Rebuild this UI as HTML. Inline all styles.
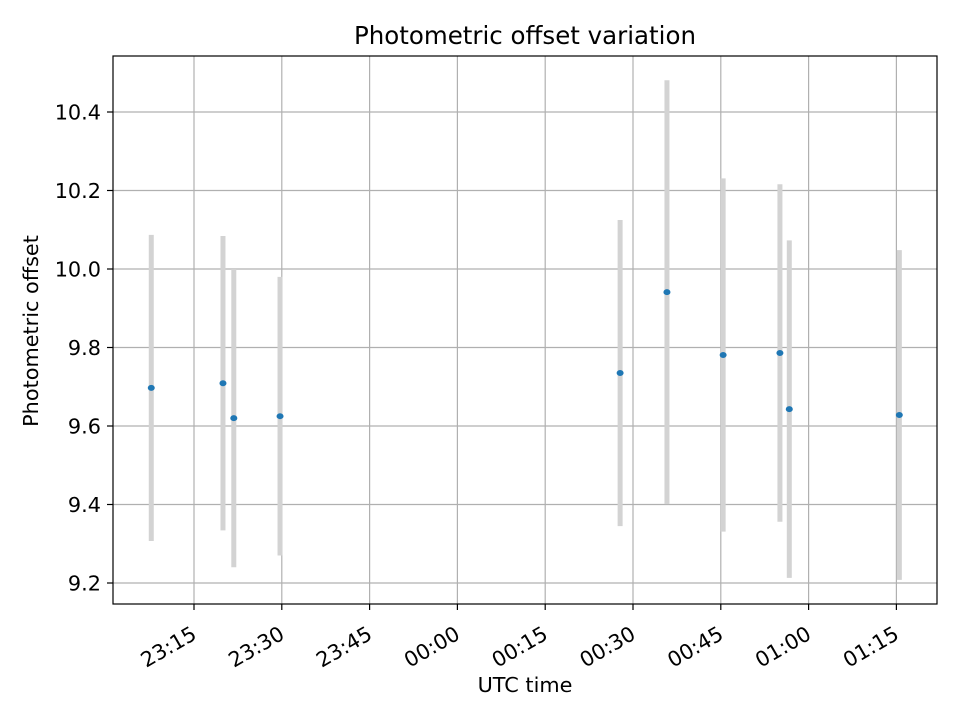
<!DOCTYPE html>
<html><head><meta charset="utf-8"><style>
html,body{margin:0;padding:0;background:#fff;}
svg text{font-family:"DejaVu Sans","Liberation Sans",sans-serif;}
</style></head><body>
<svg id="chart" width="960" height="720" xmlns="http://www.w3.org/2000/svg">
<rect width="960" height="720" fill="#fff"/>
<g id="grid"></g>
<g id="bars"></g>
<g id="pts"></g>
<rect x="113" y="56" width="824" height="548" fill="none" stroke="#000" stroke-width="1.2"/>
<g id="ticks"></g>
<text x="525" y="44" font-size="24.5" text-anchor="middle">Photometric offset variation</text>
<text x="525" y="692" font-size="20.8" text-anchor="middle">UTC time</text>
<text x="38" y="331" font-size="20.8" text-anchor="middle" transform="rotate(-90 38 331)">Photometric offset</text>
</svg>
<script>
// times in minutes relative to 23:15
const times = [-7.3, 4.95, 6.8, 14.7, 72.8, 80.8, 90.4, 100.1, 101.7, 120.5];
const values = [9.697, 9.709, 9.620, 9.625, 9.735, 9.941, 9.781, 9.786, 9.643, 9.628];
const errors = [0.39, 0.375, 0.38, 0.355, 0.39, 0.54, 0.45, 0.43, 0.43, 0.42];
const xTickMin = [0, 15, 30, 45, 60, 75, 90, 105, 120];
const xTickLabels = ["23:15","23:30","23:45","00:00","00:15","00:30","00:45","01:00","01:15"];
const yTicks = [9.2, 9.4, 9.6, 9.8, 10.0, 10.2, 10.4];
const yTickLabels = ["9.2","9.4","9.6","9.8","10.0","10.2","10.4"];

const NS="http://www.w3.org/2000/svg";
const X = m => 194 + m*(87.8/15);
const Y = v => 583 - (v-9.2)*(471/1.2);
function mk(tag, attrs, parent){const e=document.createElementNS(NS,tag);for(const k in attrs)e.setAttribute(k,attrs[k]);parent.appendChild(e);return e;}
const grid=document.getElementById('grid'), ticks=document.getElementById('ticks'), bars=document.getElementById('bars'), pts=document.getElementById('pts');
xTickMin.forEach((m,i)=>{
  const x=X(m);
  const g=mk('line',{x1:x,x2:x,y1:56,y2:604,stroke:'#b0b0b0','stroke-width':1.2},grid);
  
  
  mk('line',{x1:x,x2:x,y1:604,y2:610,stroke:'#000','stroke-width':1.2},ticks);
  const ax=x+4, ay=638;
  const t=mk('text',{x:ax,y:ay,'font-size':20.8,'text-anchor':'end',transform:`rotate(-30 ${ax} ${ay})`},ticks);
  t.textContent=xTickLabels[i];
  
  
});
yTicks.forEach((v,i)=>{
  const y=Y(v);
  const g=mk('line',{x1:113,x2:937,y1:y,y2:y,stroke:'#b0b0b0','stroke-width':1.2},grid);
  
  
  mk('line',{x1:107,x2:113,y1:y,y2:y,stroke:'#000','stroke-width':1.2},ticks);
  const t=mk('text',{x:101,y:y+7.5,'font-size':20.8,'text-anchor':'end'},ticks);
  t.textContent=yTickLabels[i];
  
  
});
times.forEach((m,i)=>{
  const x=X(m);
  const b=mk('line',{x1:x,x2:x,y1:Y(values[i]+errors[i]),y2:Y(values[i]-errors[i]),stroke:'#d3d3d3','stroke-width':5},bars);
  
  
  const p=mk('ellipse',{cx:x,cy:Y(values[i]),rx:3.5,ry:3,fill:'#1f77b4'},pts);
  
  
});
</script>
</body></html>
